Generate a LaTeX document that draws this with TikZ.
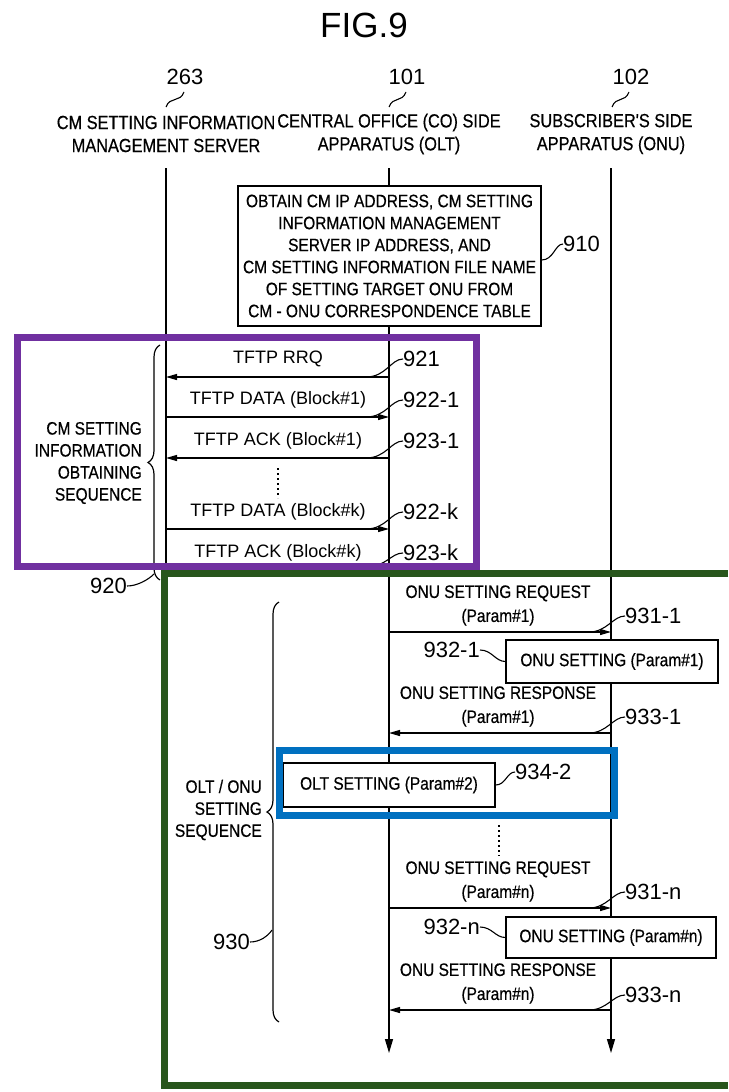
\documentclass[tikz,border=0pt]{standalone}
\usepackage{fontspec}
\setmainfont{Liberation Sans}
\newfontfamily\condf[FakeStretch=0.86,FakeBold=0.5]{Liberation Sans}
\usetikzlibrary{arrows.meta,decorations.pathreplacing}
\definecolor{framegreen}{RGB}{40,86,28}
\definecolor{framepurple}{RGB}{112,48,160}
\definecolor{frameblue}{RGB}{0,112,192}
\begin{document}
\begin{tikzpicture}[x=1pt,y=-1pt,
  lbl/.style={font=\fontsize{22}{24}\selectfont, inner sep=0pt},
  hdr/.style={font=\condf\fontsize{19}{23}\selectfont, align=center, inner sep=0pt},
  tmsg/.style={font=\fontsize{18}{20}\selectfont, inner sep=0pt},
  cmsg/.style={font=\condf\fontsize{18}{24}\selectfont, align=center, inner sep=0pt},
  procbox/.style={draw, line width=1.3pt, fill=white, font=\condf\fontsize{18}{20}\selectfont, inner sep=0pt},
  life/.style={line width=1.3pt},
  lifeend/.style={line width=1.3pt, -{Triangle[length=14pt,width=8pt]}},
  msg/.style={line width=1.3pt, -{Triangle[length=11pt,width=6pt]}},
  leader/.style={line width=1.1pt},
  bracepath/.style={line width=1.2pt, decorate, decoration={brace, amplitude=12pt}},
  dots/.style={line width=2pt, dash pattern=on 2pt off 3pt},
  frame/.style={line width=7pt}
]
\useasboundingbox (0,0) rectangle (728,1092);
\clip (0,0) rectangle (728,1092);
\fill[white] (0,0) rectangle (728,1092);

% title
\node[font=\fontsize{35}{38}\selectfont, inner sep=0pt] (fig) at (364,25) {FIG.9};

% reference numbers of the lifelines
\node[lbl] (n263) at (185,77) {263};
\node[lbl] (n101) at (407,77) {101};
\node[lbl] (n102) at (631,77) {102};
\coordinate (h263a) at (166,107); \coordinate (h263b) at (184,92);
\coordinate (h101a) at (389,107); \coordinate (h101b) at (406,92);
\coordinate (h102a) at (612,107); \coordinate (h102b) at (629,92);
\draw[leader] (h263a) .. controls (170,96) and (180,103) .. (h263b);
\draw[leader] (h101a) .. controls (393,96) and (402,103) .. (h101b);
\draw[leader] (h102a) .. controls (616,96) and (625,103) .. (h102b);

% headers
\node[hdr] (hsrv) at (166,134) {CM SETTING INFORMATION\\MANAGEMENT SERVER};
\node[hdr] (holt) at (389,134) {CENTRAL OFFICE (CO) SIDE\\APPARATUS (OLT)};
\node[hdr] (honu) at (611,134) {SUBSCRIBER'S SIDE\\APPARATUS (ONU)};

% lifelines
\coordinate (srvtop) at (166,168); \coordinate (srvbot) at (166,592);
\coordinate (olttop) at (389,168); \coordinate (oltbot) at (389,1053);
\coordinate (onutop) at (611,168); \coordinate (onubot) at (611,1053);
\draw[life] (srvtop) -- (srvbot);
\draw[lifeend] (olttop) -- (oltbot);
\draw[lifeend] (onutop) -- (onubot);

% step 910
\node[procbox, minimum width=303pt, minimum height=140pt, align=center,
      font=\condf\fontsize{18}{22}\selectfont] (b910) at (389.5,256)
  {OBTAIN CM IP ADDRESS, CM SETTING\\INFORMATION MANAGEMENT\\SERVER IP ADDRESS, AND\\CM SETTING INFORMATION FILE NAME\\OF SETTING TARGET ONU FROM\\CM - ONU CORRESPONDENCE TABLE};
\node[lbl, anchor=west] (n910) at (563,244) {910};
\coordinate (c910) at (b910.east |- 0,260);
\draw[leader] (c910) .. controls +(12,0) and +(-8,0) .. (n910.west);

% TFTP messages
\node[tmsg] (t921) at (278,359) {TFTP RRQ};
\coordinate (m921o) at (389,377); \coordinate (m921s) at (166,377);
\draw[msg] (m921o) -- (m921s);
\node[tmsg] (t9221) at (278,400) {TFTP DATA (Block\#1)};
\coordinate (m9221o) at (389,417); \coordinate (m9221s) at (166,417);
\draw[msg] (m9221s) -- (m9221o);
\node[tmsg] (t9231) at (278,441) {TFTP ACK (Block\#1)};
\coordinate (m9231o) at (389,458); \coordinate (m9231s) at (166,458);
\draw[msg] (m9231o) -- (m9231s);
\coordinate (d1a) at (278,468); \coordinate (d1b) at (278,498);
\draw[dots] (d1a) -- (d1b);
\node[tmsg] (t922k) at (278,512) {TFTP DATA (Block\#k)};
\coordinate (m922ko) at (389,529); \coordinate (m922ks) at (166,529);
\draw[msg] (m922ks) -- (m922ko);
\node[tmsg] (t923k) at (278,553) {TFTP ACK (Block\#k)};
\coordinate (m923ko) at (389,567); \coordinate (m923ks) at (166,567);
\draw[msg] (m923ko) -- (m923ks);

\node[lbl, anchor=west] (n921) at (403,359) {921};
\node[lbl, anchor=west] (n9221) at (403,400) {922-1};
\node[lbl, anchor=west] (n9231) at (403,441) {923-1};
\node[lbl, anchor=west] (n922k) at (403,512) {922-k};
\node[lbl, anchor=west] (n923k) at (403,553) {923-k};
\coordinate (c921) at (366,377);
\coordinate (c9221) at (366,417);
\coordinate (c9231) at (366,458);
\coordinate (c922k) at (366,529);
\coordinate (c923k) at (366,567);
\draw[leader] (c921) .. controls +(20,0) and +(-12,0) .. (n921.west);
\draw[leader] (c9221) .. controls +(20,0) and +(-12,0) .. (n9221.west);
\draw[leader] (c9231) .. controls +(20,0) and +(-12,0) .. (n9231.west);
\draw[leader] (c922k) .. controls +(20,0) and +(-12,0) .. (n922k.west);
\draw[leader] (c923k) .. controls +(20,0) and +(-12,0) .. (n923k.west);

% sequence 920
\coordinate (br920b) at (160,580); \coordinate (br920t) at (160,345);
\draw[bracepath] (br920b) -- (br920t);
\node[cmsg, anchor=east, align=right, font=\condf\fontsize{18}{22}\selectfont] (s920) at (142,463)
  {CM SETTING\\INFORMATION\\OBTAINING\\SEQUENCE};
\node[lbl, anchor=east] (n920) at (127,586) {920};
\coordinate (c920) at (154,574);
\draw[leader] (n920.east) .. controls +(10,0) and +(-6,6) .. (c920);

% ONU setting #1
\node[cmsg] (r9311) at (498,605.5) {ONU SETTING REQUEST\\(Param\#1)};
\coordinate (m9311o) at (389,632); \coordinate (m9311u) at (611,632);
\draw[msg] (m9311o) -- (m9311u);
\node[lbl, anchor=west] (n9311) at (625,616) {931-1};
\coordinate (c9311) at (589,632);
\draw[leader] (c9311) .. controls +(18,0) and +(-12,0) .. (n9311.west);

\node[procbox, minimum width=212pt, minimum height=43pt] (b9321) at (612,661.5) {ONU SETTING (Param\#1)};
\node[lbl, anchor=east] (n9321) at (480,650) {932-1};
\draw[leader] (n9321.east) .. controls +(12,0) and +(-10,0) .. (b9321.west);

\node[cmsg] (r9331) at (498,706.5) {ONU SETTING RESPONSE\\(Param\#1)};
\coordinate (m9331o) at (389,733); \coordinate (m9331u) at (611,733);
\draw[msg] (m9331u) -- (m9331o);
\node[lbl, anchor=west] (n9331) at (625,717) {933-1};
\coordinate (c9331) at (589,733);
\draw[leader] (c9331) .. controls +(18,0) and +(-12,0) .. (n9331.west);

% OLT setting #2
\node[procbox, minimum width=212pt, minimum height=44pt] (b9342) at (389,785) {OLT SETTING (Param\#2)};
\node[lbl, anchor=west] (n9342) at (515,772) {934-2};
\draw[leader] (b9342.east) .. controls +(10,0) and +(-8,0) .. (n9342.west);

\coordinate (d2a) at (499,825); \coordinate (d2b) at (499,856);
\draw[dots] (d2a) -- (d2b);

% ONU setting #n
\node[cmsg] (r931n) at (498,881.5) {ONU SETTING REQUEST\\(Param\#n)};
\coordinate (m931no) at (389,908); \coordinate (m931nu) at (611,908);
\draw[msg] (m931no) -- (m931nu);
\node[lbl, anchor=west] (n931n) at (625,892) {931-n};
\coordinate (c931n) at (589,908);
\draw[leader] (c931n) .. controls +(18,0) and +(-12,0) .. (n931n.west);

\node[procbox, minimum width=210pt, minimum height=41pt] (b932n) at (611,937.5) {ONU SETTING (Param\#n)};
\node[lbl, anchor=east] (n932n) at (480,927) {932-n};
\draw[leader] (n932n.east) .. controls +(12,0) and +(-10,0) .. (b932n.west);

\node[cmsg] (r933n) at (498,983.5) {ONU SETTING RESPONSE\\(Param\#n)};
\coordinate (m933no) at (389,1010); \coordinate (m933nu) at (611,1010);
\draw[msg] (m933nu) -- (m933no);
\node[lbl, anchor=west] (n933n) at (625,995) {933-n};
\coordinate (c933n) at (589,1010);
\draw[leader] (c933n) .. controls +(18,0) and +(-12,0) .. (n933n.west);

% sequence 930
\coordinate (br930b) at (279,1022); \coordinate (br930t) at (279,602);
\draw[bracepath] (br930b) -- (br930t);
\node[cmsg, anchor=east, align=right, font=\condf\fontsize{18}{22}\selectfont] (s930) at (262,810)
  {OLT / ONU\\SETTING\\SEQUENCE};
\node[lbl, anchor=east] (n930) at (250,942) {930};
\coordinate (c930) at (272,930);
\draw[leader] (n930.east) .. controls +(10,0) and +(-4,6) .. (c930);

% highlight frames (green frame runs off the right edge)
\draw[frame, framegreen] (728,573) -- (164,573) -- (164,1085) -- (728,1085);
\draw[frame, framepurple] (17,337) rectangle (476,566);
\draw[frame, frameblue] (279,750) rectangle (614,815);
\end{tikzpicture}
\end{document}
